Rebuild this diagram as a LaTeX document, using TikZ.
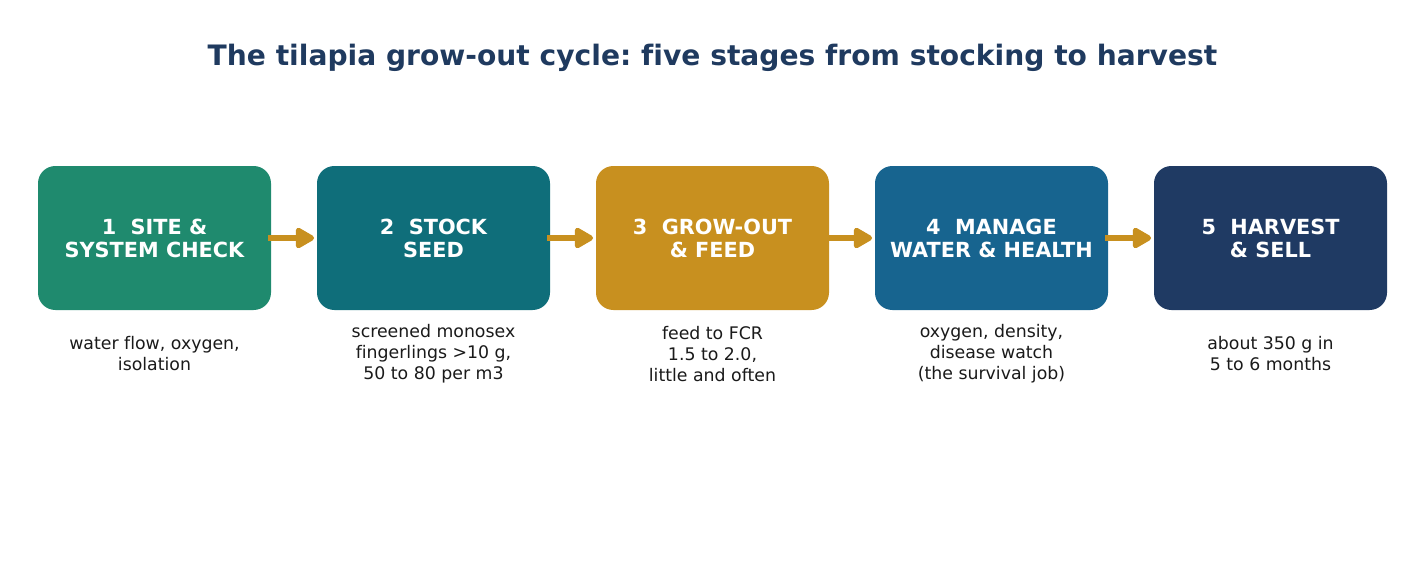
\documentclass[tikz,border=0pt]{standalone}
\usepackage{fontspec}
\setmainfont[Ligatures=NoCommon]{DejaVu Sans}
\usetikzlibrary{arrows.meta}
\definecolor{cA}{HTML}{1F8A6E}
\definecolor{cB}{HTML}{0F6E7A}
\definecolor{cC}{HTML}{C8901F}
\definecolor{cD}{HTML}{17648F}
\definecolor{cE}{HTML}{1F3A63}
\definecolor{ttl}{HTML}{1F3A5F}
\definecolor{dsc}{HTML}{1A1A1A}
\frenchspacing
\begin{document}
\begin{tikzpicture}[x=0.75pt,y=-0.75pt,
  stagebox/.style={rounded corners=13pt, minimum width=174.75pt, minimum height=108pt,
    inner sep=0pt, text=white, align=center,
    font=\fontsize{15.6}{17.3}\selectfont\bfseries},
  desc/.style={text=dsc, align=center, font=\fontsize{13}{15.75}\selectfont},
  flow/.style={draw=cC, line width=4.2pt, -{Triangle[length=16pt,width=17pt,round]}, shorten <=-2.25pt, shorten >=2pt}]
\useasboundingbox (0,0) rectangle (1425,561);
\node[text=ttl, font=\fontsize{21.1}{25}\selectfont\bfseries] (title) at (712.5,57.5) {The tilapia grow-out cycle: five stages from stocking to harvest};
\node[stagebox, fill=cA] (s1) at (154.5,238) {1\ \ SITE \&\\SYSTEM CHECK};
\node[stagebox, fill=cB] (s2) at (433.5,238) {2\ \ STOCK\\SEED};
\node[stagebox, fill=cC] (s3) at (712.5,238) {3\ \ GROW-OUT\\\& FEED};
\node[stagebox, fill=cD] (s4) at (991.5,238) {4\ \ MANAGE\\WATER \& HEALTH};
\node[stagebox, fill=cE] (s5) at (1270.5,238) {5\ \ HARVEST\\\& SELL};
\node[desc] (d1) at (154.5,354) {water flow, oxygen,\\isolation};
\node[desc] (d2) at (433.5,354) {screened monosex\\fingerlings >10 g,\\50 to 80 per m3};
\node[desc] (d3) at (712.5,354) {feed to FCR\\1.5 to 2.0,\\little and often};
\node[desc] (d4) at (991.5,354) {oxygen, density,\\disease watch\\(the survival job)};
\node[desc] (d5) at (1270.5,354) {about 350 g in\\5 to 6 months};
\draw[flow] (s1.east) -- (s2.west);
\draw[flow] (s2.east) -- (s3.west);
\draw[flow] (s3.east) -- (s4.west);
\draw[flow] (s4.east) -- (s5.west);
\end{tikzpicture}
\end{document}
